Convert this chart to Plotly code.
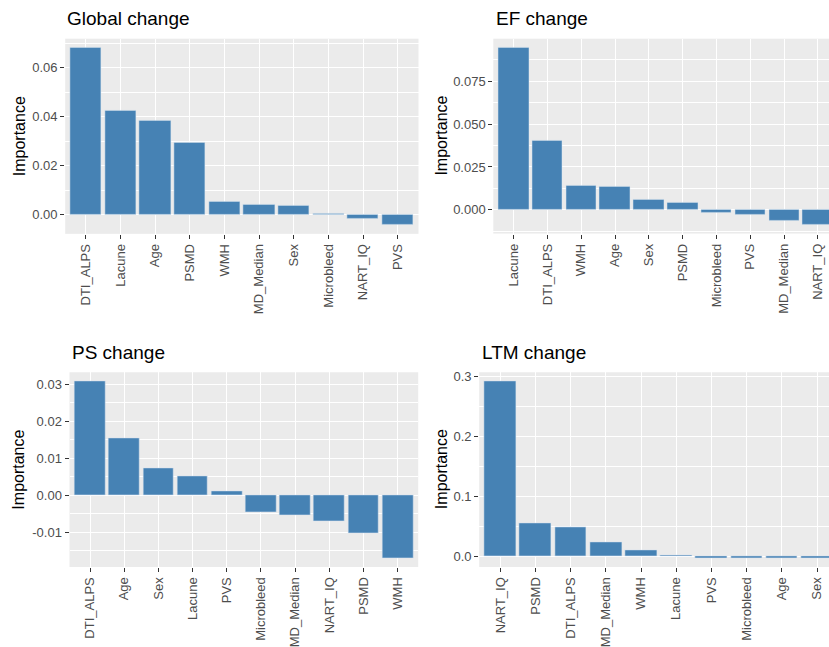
import plotly.graph_objects as go

W, H = 829, 647

# Variable importance per outcome (sorted as plotted)
global_vars = ["DTI_ALPS", "Lacune", "Age", "PSMD", "WMH", "MD_Median", "Sex",
               "Microbleed", "NART_IQ", "PVS"]
global_imp = [0.0683, 0.0426, 0.0384, 0.0292, 0.0054, 0.0041, 0.0038,
              0.0003, -0.0019, -0.0043]

ef_vars = ["Lacune", "DTI_ALPS", "WMH", "Age", "Sex", "PSMD", "Microbleed",
           "PVS", "MD_Median", "NART_IQ"]
ef_imp = [0.0947, 0.0402, 0.0139, 0.0133, 0.0061, 0.0042, -0.0019,
          -0.0027, -0.0064, -0.0087]

ps_vars = ["DTI_ALPS", "Age", "Sex", "Lacune", "PVS", "Microbleed",
           "MD_Median", "NART_IQ", "PSMD", "WMH"]
ps_imp = [0.0308, 0.0155, 0.0072, 0.0052, 0.0011, -0.0045, -0.0053,
          -0.0070, -0.0104, -0.0170]

ltm_vars = ["NART_IQ", "PSMD", "DTI_ALPS", "MD_Median", "WMH", "Lacune",
            "PVS", "Microbleed", "Age", "Sex"]
ltm_imp = [0.2916, 0.0542, 0.0481, 0.0235, 0.0103, 0.0015, -0.0032,
           -0.0032, -0.0032, -0.0032]

# Y tick values and labels per panel
global_ticks = [0.0, 0.02, 0.04, 0.06]
global_ticktext = ["0.00", "0.02", "0.04", "0.06"]
ef_ticks = [0.0, 0.025, 0.05, 0.075]
ef_ticktext = ["0.000", "0.025", "0.050", "0.075"]
ps_ticks = [-0.01, 0.0, 0.01, 0.02, 0.03]
ps_ticktext = ["-0.01", "0.00", "0.01", "0.02", "0.03"]
ltm_ticks = [0.0, 0.1, 0.2, 0.3]
ltm_ticktext = ["0.0", "0.1", "0.2", "0.3"]

titles = ["Global change", "EF change", "PS change", "LTM change"]

FONT = "Liberation Sans, Arial, sans-serif"
BAR = "#4682B4"
PANEL_BG = "#EBEBEB"
TICK_GRAY = "#4D4D4D"

# panel boxes in pixels: left, right, top, bottom ; x upper limit in category units
panels = [
    dict(vars=global_vars, imp=global_imp, box=(65.2, 418.5, 35, 232), xmax=9.6,
         ticks=global_ticks, ticktext=global_ticktext, minor=0.01, title_x=65,
         title_y=15, ytitle_x=19),
    dict(vars=ef_vars, imp=ef_imp, box=(493.3, 829, 35, 231.7), xmax=9.33,
         ticks=ef_ticks, ticktext=ef_ticktext, minor=0.0125, title_x=494,
         title_y=15, ytitle_x=441.5),
    dict(vars=ps_vars, imp=ps_imp, box=(69.5, 418.2, 371.7, 568.3), xmax=9.6,
         ticks=ps_ticks, ticktext=ps_ticktext, minor=0.005, title_x=70,
         title_y=351.5, ytitle_x=19),
    dict(vars=ltm_vars, imp=ltm_imp, box=(479.2, 829, 371.7, 568.3), xmax=9.34,
         ticks=ltm_ticks, ticktext=ltm_ticktext, minor=0.05, title_x=480,
         title_y=351.5, ytitle_x=441.5),
]

fig = go.Figure()
layout = {}
annotations = []

for i, p in enumerate(panels, start=1):
    sfx = "" if i == 1 else str(i)
    left, right, top, bottom = p["box"]
    lo, hi = min(p["imp"]), max(p["imp"])
    pad = 0.05 * (hi - lo)
    yr = [min(lo, 0) - pad, hi + pad]

    fig.add_trace(go.Bar(
        x=p["vars"], y=p["imp"], width=0.9,
        marker=dict(color=BAR, line=dict(color="rgba(215,228,240,0.85)", width=0.6)),
        xaxis="x" + sfx, yaxis="y" + sfx, showlegend=False,
        hoverinfo="x+y",
    ))

    layout["xaxis" + sfx] = dict(
        domain=[left / W, min(right / W, 1.0)],
        anchor="y" + sfx,
        type="category",
        categoryorder="array", categoryarray=p["vars"],
        range=[-0.6, p["xmax"]],
        showgrid=True, gridcolor="white", gridwidth=1.1,
        zeroline=False, showline=False,
        ticks="outside", ticklen=4, tickwidth=1.1, tickcolor="#333333",
        tickangle=-90,
        tickfont=dict(family=FONT, size=13, color=TICK_GRAY),
        fixedrange=True,
    )
    layout["yaxis" + sfx] = dict(
        domain=[1 - bottom / H, 1 - top / H],
        anchor="x" + sfx,
        range=yr,
        tickmode="array", tickvals=p["ticks"], ticktext=p["ticktext"],
        showgrid=True, gridcolor="white", gridwidth=1.1,
        minor=dict(dtick=p["minor"], tick0=0, showgrid=True,
                   gridcolor="white", gridwidth=0.55, ticks=""),
        zeroline=False, showline=False,
        ticks="outside", ticklen=4, tickwidth=1.1, tickcolor="#333333",
        tickfont=dict(family=FONT, size=13, color=TICK_GRAY),
        fixedrange=True,
    )

    annotations.append(dict(
        text=titles[i - 1], xref="paper", yref="paper",
        x=p["title_x"] / W, y=1 - p["title_y"] / H,
        xanchor="left", yanchor="middle", showarrow=False,
        font=dict(family=FONT, size=19, color="black"),
    ))
    annotations.append(dict(
        text="Importance", xref="paper", yref="paper",
        x=p["ytitle_x"] / W, y=1 - (top + bottom) / 2 / H,
        xanchor="center", yanchor="middle", textangle=-90, showarrow=False,
        font=dict(family=FONT, size=16, color="black"),
    ))

fig.update_layout(
    width=W, height=H,
    margin=dict(l=0, r=0, t=0, b=0),
    paper_bgcolor="white",
    plot_bgcolor=PANEL_BG,
    bargap=0,
    annotations=annotations,
    **layout,
)

fig.write_html("out.html", config={"displayModeBar": False})
